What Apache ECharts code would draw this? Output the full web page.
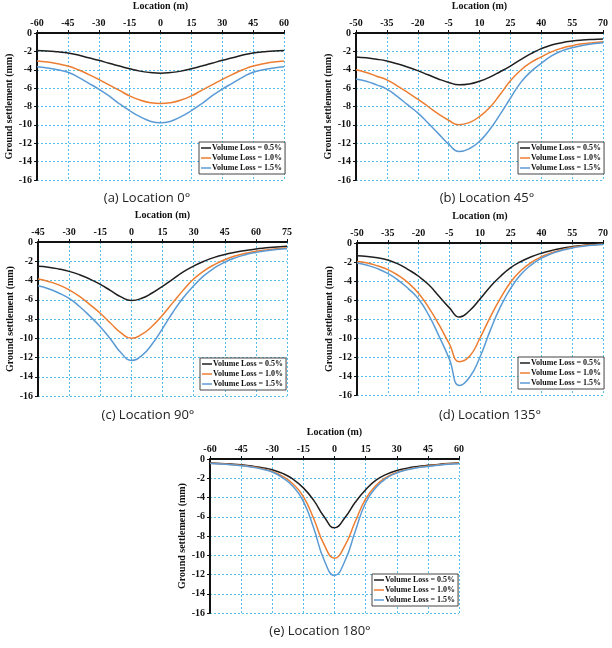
<!DOCTYPE html>
<html>
<head>
<meta charset="utf-8">
<script src="https://cdn.jsdelivr.net/npm/echarts@6/dist/echarts.min.js"></script>
<style>
  html, body { margin: 0; padding: 0; background: #fff; }
  #main { width: 612px; height: 648px; }
</style>
</head>
<body>
<div id="main"></div>
<script>
// series names
var names = ['Volume Loss = 0.5%', 'Volume Loss = 1.0%', 'Volume Loss = 1.5%'];

// (a) Location 0
var xA = [-60, -55, -50, -45, -40, -35, -30, -25, -20, -15, -10, -5, 0, 5, 10, 15, 20, 25, 30, 35, 40, 45, 50, 55, 60];
var a05 = [-1.9, -1.95, -2.05, -2.17, -2.4, -2.7, -2.97, -3.3, -3.6, -3.9, -4.15, -4.3, -4.37, -4.3, -4.15, -3.9, -3.6, -3.3, -2.97, -2.7, -2.4, -2.17, -2.05, -1.95, -1.9];
var a10 = [-3.04, -3.15, -3.35, -3.6, -4.0, -4.5, -5.05, -5.65, -6.25, -6.85, -7.3, -7.58, -7.68, -7.58, -7.3, -6.85, -6.25, -5.65, -5.05, -4.5, -4.0, -3.6, -3.35, -3.15, -3.04];
var a15 = [-3.67, -3.8, -4.0, -4.27, -4.8, -5.45, -6.1, -6.85, -7.7, -8.45, -9.1, -9.6, -9.78, -9.6, -9.1, -8.45, -7.7, -6.85, -6.1, -5.45, -4.8, -4.27, -4.0, -3.8, -3.67];

// (b) Location 45
var xB = [-50, -45, -40, -35, -30, -25, -20, -15, -10, -5, 0, 5, 10, 15, 20, 25, 30, 35, 40, 45, 50, 55, 60, 65, 70];
var b05 = [-2.6, -2.7, -2.85, -3.05, -3.35, -3.7, -4.1, -4.55, -5.0, -5.38, -5.64, -5.55, -5.25, -4.8, -4.22, -3.6, -2.9, -2.25, -1.7, -1.3, -1.05, -0.88, -0.77, -0.7, -0.65];
var b10 = [-4.0, -4.3, -4.7, -5.1, -5.75, -6.45, -7.2, -8.0, -8.8, -9.5, -9.98, -9.75, -9.1, -8.1, -6.7, -5.2, -4.05, -3.2, -2.6, -2.05, -1.65, -1.38, -1.18, -1.05, -0.95];
var b15 = [-5.0, -5.25, -5.65, -6.1, -6.9, -7.8, -8.7, -9.8, -10.95, -12.1, -12.9, -12.6, -11.8, -10.5, -8.85, -7.1, -5.4, -4.2, -3.3, -2.5, -1.95, -1.6, -1.35, -1.18, -1.05];

// (c) Location 90
var xC = [-45, -40, -35, -30, -25, -20, -15, -10, -5, 0, 5, 10, 15, 20, 25, 30, 35, 40, 45, 50, 55, 60, 65, 70, 75];
var c05 = [-2.53, -2.62, -2.8, -3.05, -3.4, -3.85, -4.4, -5.05, -5.7, -6.07, -5.85, -5.3, -4.6, -3.85, -3.1, -2.5, -2.0, -1.6, -1.3, -1.07, -0.88, -0.73, -0.6, -0.52, -0.45];
var c10 = [-3.85, -4.1, -4.45, -4.97, -5.65, -6.5, -7.4, -8.45, -9.45, -10.0, -9.6, -8.75, -7.6, -6.3, -5.0, -3.85, -3.0, -2.35, -1.84, -1.45, -1.17, -0.97, -0.82, -0.7, -0.62];
var c15 = [-4.55, -4.85, -5.3, -5.85, -6.7, -7.7, -8.8, -10.1, -11.5, -12.3, -11.8, -10.6, -9.0, -7.3, -5.8, -4.55, -3.5, -2.7, -2.1, -1.65, -1.32, -1.08, -0.9, -0.78, -0.7];

// (d) Location 135
var xD = [-50, -45, -40, -35, -30, -25, -20, -15, -10, -5, 0, 5, 10, 15, 20, 25, 30, 35, 40, 45, 50, 55, 60, 65, 70];
var d05 = [-1.35, -1.42, -1.55, -1.78, -2.2, -2.8, -3.5, -4.4, -5.6, -6.8, -7.8, -7.1, -5.9, -4.6, -3.5, -2.6, -1.95, -1.45, -1.07, -0.78, -0.55, -0.38, -0.25, -0.16, -0.1];
var d10 = [-1.95, -2.1, -2.4, -2.8, -3.4, -4.2, -5.3, -6.8, -8.6, -10.6, -12.5, -11.9, -10.0, -7.8, -5.8, -4.1, -2.9, -2.05, -1.45, -1.02, -0.7, -0.45, -0.3, -0.2, -0.13];
var d15 = [-2.1, -2.35, -2.7, -3.2, -3.9, -4.8, -5.9, -7.6, -9.8, -12.2, -15.0, -14.1, -12.0, -9.2, -6.7, -4.75, -3.3, -2.3, -1.6, -1.12, -0.77, -0.52, -0.35, -0.23, -0.15];

// (e) Location 180
var xE = [-60, -55, -50, -45, -40, -35, -30, -25, -20, -15, -10, -5, 0, 5, 10, 15, 20, 25, 30, 35, 40, 45, 50, 55, 60];
var e05 = [-0.42, -0.46, -0.52, -0.6, -0.72, -0.9, -1.12, -1.5, -2.1, -3.0, -4.3, -6.0, -7.15, -6.1, -4.5, -3.2, -2.2, -1.6, -1.2, -0.95, -0.78, -0.66, -0.56, -0.48, -0.42];
var e10 = [-0.45, -0.5, -0.57, -0.66, -0.8, -1.0, -1.3, -1.8, -2.6, -3.9, -6.2, -8.9, -10.3, -9.0, -6.5, -4.15, -2.75, -1.9, -1.4, -1.08, -0.87, -0.72, -0.6, -0.5, -0.45];
var e15 = [-0.46, -0.52, -0.6, -0.7, -0.83, -1.05, -1.35, -1.95, -2.85, -4.4, -7.2, -10.5, -12.1, -10.6, -7.5, -4.55, -2.95, -2.0, -1.45, -1.12, -0.9, -0.78, -0.65, -0.55, -0.5];

// x axis ranges
var xRanges = [[-60, 60], [-50, 70], [-45, 75], [-50, 70], [-60, 60]];
var captions = ['(a) Location 0°', '(b) Location 45°', '(c) Location 90°', '(d) Location 135°', '(e) Location 180°'];

var panels = [
  { x: xA, ys: [a05, a10, a15] },
  { x: xB, ys: [b05, b10, b15] },
  { x: xC, ys: [c05, c10, c15] },
  { x: xD, ys: [d05, d10, d15] },
  { x: xE, ys: [e05, e10, e15] }
];

// layout (pixels)
var grids = [
  { left: 37, top: 28, width: 247, height: 152 },
  { left: 356, top: 28, width: 247, height: 152 },
  { left: 38, top: 242, width: 249, height: 154 },
  { left: 357, top: 243, width: 246, height: 152 },
  { left: 210, top: 459, width: 249, height: 154 }
];
var legendPos = [
  { left: 199, top: 142 },
  { left: 518, top: 142 },
  { left: 200, top: 358 },
  { left: 518, top: 357 },
  { left: 372, top: 574 }
];
var captionPos = [
  { x: 147, y: 192 },
  { x: 487, y: 192 },
  { x: 148, y: 409 },
  { x: 490, y: 409 },
  { x: 320, y: 625 }
];

var colors = ['#1f1f1f', '#ED7D31', '#5B9BD5'];
var serif = '"Liberation Serif", "Times New Roman", serif';
var gridLine = { show: true, lineStyle: { color: '#55BFEA', type: [2, 2], width: 1 } };

function zip(xs, ys) {
  return xs.map(function (x, i) { return [x, ys[i]]; });
}

var option = {
  animation: false,
  backgroundColor: '#fff',
  color: colors,
  grid: [],
  xAxis: [],
  yAxis: [],
  legend: [],
  title: [],
  series: []
};

panels.forEach(function (p, k) {
  option.grid.push(grids[k]);
  option.xAxis.push({
    type: 'value',
    gridIndex: k,
    position: 'top',
    min: xRanges[k][0],
    max: xRanges[k][1],
    interval: 15,
    name: 'Location (m)',
    nameLocation: 'middle',
    nameGap: 22,
    nameTextStyle: { fontFamily: serif, fontWeight: 'bold', fontSize: 10, color: '#111' },
    axisLine: { onZero: false, lineStyle: { color: '#111', width: 2 } },
    axisTick: { show: true, length: 3, lineStyle: { color: '#111' } },
    axisLabel: { fontFamily: serif, fontWeight: 'bold', fontSize: 10, color: '#111', margin: 5 },
    splitLine: gridLine
  });
  option.yAxis.push({
    type: 'value',
    gridIndex: k,
    min: -16,
    max: 0,
    interval: 2,
    name: 'Ground settlement (mm)',
    nameLocation: 'middle',
    nameRotate: 90,
    nameGap: 23,
    nameTextStyle: { fontFamily: serif, fontWeight: 'bold', fontSize: 10, color: '#111' },
    axisLine: { show: true, onZero: false, lineStyle: { color: '#111', width: 2 } },
    axisTick: { show: true, length: 3, lineStyle: { color: '#111' } },
    axisLabel: { fontFamily: serif, fontWeight: 'bold', fontSize: 10, color: '#111', margin: 5 },
    splitLine: gridLine
  });
  option.legend.push({
    left: legendPos[k].left,
    top: legendPos[k].top,
    orient: 'vertical',
    data: names,
    icon: 'rect',
    backgroundColor: '#fff',
    borderColor: '#444',
    borderWidth: 1,
    borderRadius: 0,
    padding: [2, 3, 2, 2],
    itemGap: 2,
    itemWidth: 10,
    itemHeight: 1.5,
    selectedMode: false,
    textStyle: { fontFamily: serif, fontWeight: 'bold', fontSize: 8, color: '#111', padding: [0, 0, 0, -4] }
  });
  option.title.push({
    text: captions[k],
    left: captionPos[k].x,
    top: captionPos[k].y,
    textAlign: 'center',
    padding: 0,
    textStyle: { fontFamily: '"Open Sans", "Noto Sans", sans-serif', fontWeight: 'normal', fontSize: 13, color: '#222' }
  });
  p.ys.forEach(function (ys, j) {
    option.series.push({
      name: names[j],
      type: 'line',
      xAxisIndex: k,
      yAxisIndex: k,
      smooth: 0.5,
      symbol: 'none',
      lineStyle: { width: 1.5, color: colors[j] },
      itemStyle: { color: colors[j] },
      data: zip(p.x, ys)
    });
  });
});

var myChart = echarts.init(document.getElementById('main'));
myChart.setOption(option);
</script>
</body>
</html>
